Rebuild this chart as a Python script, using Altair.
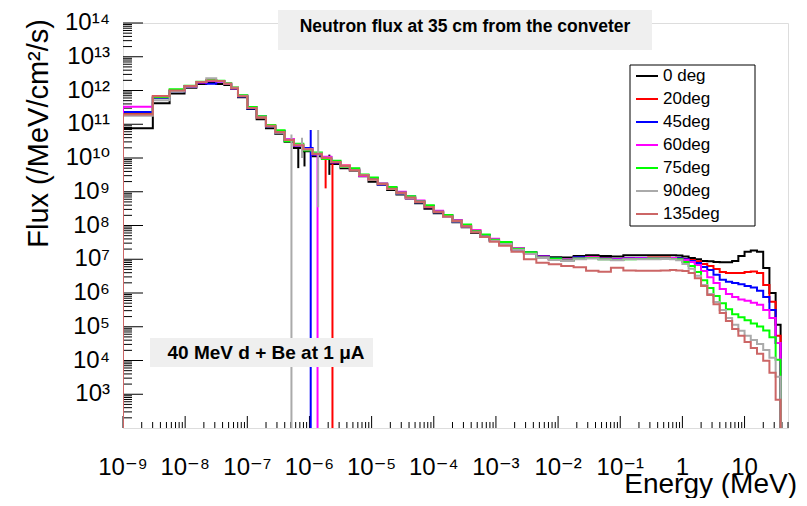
import altair as alt
import pandas as pd

W, H = 665, 405
FONT = "Liberation Sans, Arial, Helvetica, DejaVu Sans, sans-serif"

series_names = ["0 deg", "20deg", "45deg", "60deg", "75deg", "90deg", "135deg"]
series_colors = ["#000000", "#ff0000", "#0000ff", "#ff00ff", "#00ff00", "#aaaaaa", "#cc6666"]

# histogram bin lower edges, log10(E / MeV)
edges_low = [-9.0, -8.52, -8.25, -8.01, -7.82, -7.66, -7.50, -7.37]
edges_mid = [-7.26, -7.15, -7.00, -6.85, -6.70, -6.55, -6.40, -6.25, -6.10, -5.95,
             -5.80, -5.65, -5.50, -5.35, -5.20, -5.05, -4.90, -4.75, -4.60, -4.45,
             -4.30, -4.15, -4.00, -3.85, -3.70, -3.55, -3.40, -3.25, -3.10]
edges_flat = [-2.95, -2.75, -2.55, -2.35, -2.15, -1.95, -1.75, -1.55, -1.35, -1.15,
              -0.95, -0.75, -0.55, -0.35]
edges_high = [-0.20, -0.10, 0.00, 0.10, 0.20, 0.30, 0.40, 0.50, 0.60, 0.70,
              0.80, 0.90, 1.00, 1.10, 1.20, 1.30, 1.40, 1.50]
edge_last = 1.58
edge_end = 1.70
floor_log = 0.0   # empty bin (drops below the axis)

# log10(flux) per bin
deg0_low = [10.88, 11.62, 11.91, 12.08, 12.19, 12.24, 12.19, 12.16]
deg20_low = [11.31, 11.83, 12.00, 12.13, 12.25, 12.30, 12.28, 12.20]
deg45_low = [11.36, 11.78, 11.98, 12.12, 12.24, 12.20, 12.27, 12.19]
deg60_low = [11.52, 11.80, 11.99, 12.12, 12.24, 12.29, 12.27, 12.20]
deg75_low = [11.28, 11.80, 12.04, 12.14, 12.26, 12.31, 12.29, 12.22]
deg90_low = [11.25, 11.71, 11.97, 12.12, 12.25, 12.36, 12.28, 12.21]
deg135_low = [11.29, 11.83, 12.00, 12.13, 12.25, 12.30, 12.28, 12.20]

deg0_mid = [12.05, 11.80, 11.45, 11.15, 10.88, 10.72, 10.48, 10.30, 10.20, 10.05,
            9.98, 9.82, 9.70, 9.62, 9.46, 9.30, 9.20, 9.05, 8.92, 8.80,
            8.66, 8.50, 8.36, 8.25, 8.10, 7.95, 7.78, 7.66, 7.55]
deg20_mid = [12.08, 11.84, 11.50, 11.20, 10.96, 10.78, 10.55, 10.40, 10.24, 10.14,
             10.02, 9.86, 9.78, 9.65, 9.50, 9.38, 9.22, 9.10, 8.98, 8.82,
             8.72, 8.56, 8.42, 8.26, 8.15, 7.99, 7.85, 7.70, 7.60]
deg45_mid = [12.06, 11.82, 11.47, 11.23, 10.93, 10.80, 10.52, 10.36, 10.30, 10.10,
             10.03, 9.87, 9.74, 9.66, 9.48, 9.40, 9.21, 9.12, 8.95, 8.86,
             8.69, 8.58, 8.39, 8.30, 8.12, 8.00, 7.81, 7.72, 7.56]
deg60_mid = [12.07, 11.85, 11.49, 11.22, 10.95, 10.76, 10.56, 10.37, 10.27, 10.11,
             10.04, 9.89, 9.77, 9.68, 9.47, 9.37, 9.25, 9.08, 9.00, 8.81,
             8.74, 8.54, 8.44, 8.25, 8.16, 7.97, 7.86, 7.68, 7.61]
deg75_mid = [12.09, 11.86, 11.51, 11.24, 10.97, 10.82, 10.50, 10.42, 10.22, 10.16,
             9.97, 9.92, 9.73, 9.70, 9.51, 9.42, 9.24, 9.14, 8.97, 8.87,
             8.71, 8.60, 8.41, 8.31, 8.14, 8.03, 7.83, 7.73, 7.58]
deg90_mid = [12.08, 11.84, 11.48, 11.20, 10.94, 10.75, 10.54, 10.39, 10.25, 10.13,
             10.01, 9.88, 9.75, 9.63, 9.50, 9.35, 9.22, 9.08, 8.95, 8.82,
             8.69, 8.55, 8.39, 8.26, 8.12, 7.97, 7.80, 7.67, 7.55]
deg135_mid = [12.07, 11.83, 11.48, 11.21, 10.94, 10.77, 10.53, 10.38, 10.26, 10.12,
              10.00, 9.88, 9.76, 9.64, 9.49, 9.36, 9.23, 9.09, 8.96, 8.83,
              8.70, 8.55, 8.40, 8.27, 8.13, 7.98, 7.80, 7.66, 7.52]

deg0_flat = [7.46, 7.32, 7.20, 7.10, 7.06, 7.05, 7.10, 7.12, 7.10, 7.08, 7.12, 7.12, 7.12, 7.12]
deg20_flat = [7.49, 7.30, 7.18, 7.06, 7.00, 6.98, 7.05, 7.06, 7.03, 7.00, 7.04, 7.04, 7.05, 7.05]
deg45_flat = [7.50, 7.29, 7.20, 7.08, 7.02, 6.97, 7.06, 7.04, 7.02, 7.01, 7.03, 7.04, 7.04, 7.04]
deg60_flat = [7.47, 7.33, 7.17, 7.08, 7.00, 6.99, 7.03, 7.06, 7.01, 7.00, 7.02, 7.03, 7.04, 7.04]
deg75_flat = [7.51, 7.31, 7.21, 7.05, 7.02, 6.96, 7.02, 7.04, 7.00, 6.98, 7.00, 7.01, 7.02, 7.02]
deg90_flat = [7.45, 7.28, 7.16, 7.04, 6.98, 6.95, 7.00, 7.02, 6.99, 6.97, 7.00, 7.00, 7.00, 7.01]
deg135_flat = [7.40, 7.22, 7.00, 6.90, 6.85, 6.80, 6.76, 6.66, 6.63, 6.75, 6.67, 6.66, 6.66, 6.67]

deg0_high = [7.12, 7.11, 7.08, 7.04, 7.00, 6.95, 6.94, 6.92, 6.91, 6.91,
             6.95, 7.10, 7.22, 7.26, 7.22, 6.74, 6.00, 5.06]
deg20_high = [7.04, 7.04, 7.01, 6.98, 6.94, 6.86, 6.80, 6.71, 6.62, 6.59,
              6.59, 6.59, 6.62, 6.64, 6.59, 6.24, 5.74, 4.73]
deg45_high = [7.04, 7.03, 7.00, 6.95, 6.89, 6.77, 6.68, 6.54, 6.39, 6.33,
              6.30, 6.26, 6.21, 6.16, 6.07, 5.88, 5.50, 4.52]
deg60_high = [7.04, 7.01, 6.98, 6.92, 6.83, 6.65, 6.47, 6.30, 6.12, 5.97,
              5.88, 5.81, 5.77, 5.71, 5.65, 5.50, 5.26, 4.52]
deg75_high = [7.01, 7.00, 6.92, 6.80, 6.62, 6.38, 6.15, 5.91, 5.70, 5.52,
              5.37, 5.28, 5.19, 5.10, 5.01, 4.89, 4.69, 4.02]
deg90_high = [7.00, 6.97, 6.86, 6.72, 6.51, 6.24, 5.97, 5.73, 5.50, 5.26,
              5.06, 4.88, 4.73, 4.61, 4.49, 4.31, 4.08, 3.52]
deg135_high = [6.68, 6.67, 6.65, 6.59, 6.44, 6.21, 5.94, 5.67, 5.41, 5.17,
               4.93, 4.73, 4.55, 4.37, 4.20, 3.99, 3.64, 2.84]

# narrow spikes / empty bins: series, log10 E, log10 top, log10 bottom
spike_series = ["0 deg", "0 deg", "0 deg", "20deg", "20deg", "45deg", "60deg", "90deg", "90deg", "90deg"]
spike_loge = [-6.18, -6.08, -5.68, -5.74, -5.63, -5.98, -5.87, -6.29, -6.12, -5.86]
spike_top = [10.30, 10.25, 10.10, 10.02, 9.93, 10.83, 10.10, 10.70, 10.60, 10.83]
spike_bottom = [9.70, 9.75, 9.50, 9.10, 0.0, 0.0, 0.0, 0.0, 10.00, 8.54]

x_major = [1e-9, 1e-8, 1e-7, 1e-6, 1e-5, 1e-4, 1e-3, 1e-2, 1e-1, 1.0, 10.0]
x_tick_labels = ["10⁻⁹", "10⁻⁸", "10⁻⁷", "10⁻⁶", "10⁻⁵", "10⁻⁴", "10⁻³", "10⁻²", "10⁻¹", "1", "10"]
y_major = [1e3, 1e4, 1e5, 1e6, 1e7, 1e8, 1e9, 1e10, 1e11, 1e12, 1e13, 1e14]
y_tick_labels = ["10³", "10⁴", "10⁵", "10⁶", "10⁷", "10⁸", "10⁹", "10¹⁰", "10¹¹", "10¹²", "10¹³", "10¹⁴"]
x_minor = [m * 10.0 ** e for e in range(-9, 2) for m in range(2, 10) if m * 10.0 ** e <= 50]
y_minor = [m * 10.0 ** e for e in range(2, 14) for m in range(2, 10)]

title_text = "Neutron flux at 35 cm from the conveter"
note_text = "40 MeV d + Be at 1 μA"
x_title = "Energy (MeV)"
y_title = "Flux (/MeV/cm²/s)"

# ---------- build tables ----------
low_sets = [deg0_low, deg20_low, deg45_low, deg60_low, deg75_low, deg90_low, deg135_low]
mid_sets = [deg0_mid, deg20_mid, deg45_mid, deg60_mid, deg75_mid, deg90_mid, deg135_mid]
flat_sets = [deg0_flat, deg20_flat, deg45_flat, deg60_flat, deg75_flat, deg90_flat, deg135_flat]
high_sets = [deg0_high, deg20_high, deg45_high, deg60_high, deg75_high, deg90_high, deg135_high]
all_edges = edges_low + edges_mid + edges_flat + edges_high

rows = []
for name, lo, mi, fl, hi in zip(series_names, low_sets, mid_sets, flat_sets, high_sets):
    vals = lo + mi + fl + hi
    pts = [(all_edges[0], floor_log)] + list(zip(all_edges, vals)) + [(edge_last, floor_log), (edge_end, floor_log)]
    for i, (e, v) in enumerate(pts):
        rows.append({"series": name, "idx": i, "E": 10 ** e, "F": 10 ** v})
df = pd.DataFrame(rows)

spikes = pd.DataFrame({
    "series": spike_series,
    "E": [10 ** e for e in spike_loge],
    "top": [10 ** v for v in spike_top],
    "bottom": [10 ** v for v in spike_bottom],
})

x_scale = alt.Scale(type="log", domain=[1e-9, 50], nice=False)
y_scale = alt.Scale(type="log", domain=[1e2, 1e14], nice=False)

color = alt.Color(
    "series:N",
    scale=alt.Scale(domain=series_names, range=series_colors),
    legend=alt.Legend(
        title=None, orient="none", legendX=507, legendY=36, padding=5, rowPadding=3,
        labelFont=FONT, labelFontSize=17, labelColor="black", labelOffset=4,
        symbolType="stroke", symbolSize=484, symbolStrokeWidth=2,
    ),
)

layers = []
one = pd.DataFrame({"k": [0]})

# ticks (inside the frame)
layers.append(alt.Chart(pd.DataFrame({"v": x_major})).mark_rule(color="black", strokeWidth=1).encode(
    x=alt.X("v:Q", scale=x_scale, axis=None), y=alt.value(H), y2=alt.value(H - 12)))
layers.append(alt.Chart(pd.DataFrame({"v": x_minor})).mark_rule(color="black", strokeWidth=1).encode(
    x=alt.X("v:Q", scale=x_scale, axis=None), y=alt.value(H), y2=alt.value(H - 6)))
layers.append(alt.Chart(pd.DataFrame({"v": y_major})).mark_rule(color="black", strokeWidth=1).encode(
    y=alt.Y("v:Q", scale=y_scale, axis=None), x=alt.value(0), x2=alt.value(20)))
layers.append(alt.Chart(pd.DataFrame({"v": y_minor})).mark_rule(color="black", strokeWidth=1).encode(
    y=alt.Y("v:Q", scale=y_scale, axis=None), x=alt.value(0), x2=alt.value(9)))

# histograms
for name in series_names:
    layers.append(
        alt.Chart(df).transform_filter(alt.datum.series == name)
        .mark_line(interpolate="step-after", clip=True, strokeWidth=2)
        .encode(x=alt.X("E:Q", scale=x_scale, axis=None),
                y=alt.Y("F:Q", scale=y_scale, axis=None),
                color=color, order="idx:Q"))
    layers.append(
        alt.Chart(spikes).transform_filter(alt.datum.series == name)
        .mark_rule(clip=True, strokeWidth=2)
        .encode(x=alt.X("E:Q", scale=x_scale, axis=None),
                y=alt.Y("top:Q", scale=y_scale, axis=None),
                y2="bottom:Q", color=color))

# tick labels
layers.append(alt.Chart(pd.DataFrame({"v": x_major, "t": x_tick_labels})).mark_text(
    font=FONT, fontSize=24, align="center", baseline="alphabetic", color="black").encode(
    x=alt.X("v:Q", scale=x_scale, axis=None), y=alt.value(H + 47), text="t:N"))
layers.append(alt.Chart(pd.DataFrame({"v": y_major, "t": y_tick_labels})).mark_text(
    font=FONT, fontSize=24, align="right", baseline="alphabetic", dy=7, color="black").encode(
    y=alt.Y("v:Q", scale=y_scale, axis=None), x=alt.value(-13), text="t:N"))

# axis titles
layers.append(alt.Chart(pd.DataFrame({"t": [x_title]})).mark_text(
    font=FONT, fontSize=28, align="right", baseline="alphabetic", color="black").encode(
    x=alt.value(674), y=alt.value(H + 65), text="t:N"))
layers.append(alt.Chart(pd.DataFrame({"t": [y_title]})).mark_text(
    font=FONT, fontSize=29, align="right", baseline="alphabetic", angle=270, color="black").encode(
    x=alt.value(-75), y=alt.value(-4), text="t:N"))

# annotation box
layers.append(alt.Chart(one).mark_rect(fill="#efefef", stroke=None).encode(
    x=alt.value(27), x2=alt.value(250), y=alt.value(315), y2=alt.value(344)))
layers.append(alt.Chart(pd.DataFrame({"t": [note_text]})).mark_text(
    font=FONT, fontSize=19, fontWeight="bold", align="center", baseline="alphabetic", color="black").encode(
    x=alt.value(143), y=alt.value(336), text="t:N"))

# title box
layers.append(alt.Chart(one).mark_rect(fill="#efefef", stroke=None).encode(
    x=alt.value(155), x2=alt.value(529), y=alt.value(-13), y2=alt.value(27)))
layers.append(alt.Chart(pd.DataFrame({"t": [title_text]})).mark_text(
    font=FONT, fontSize=17.5, fontWeight="bold", align="center", baseline="alphabetic", color="black").encode(
    x=alt.value(342), y=alt.value(9), text="t:N"))

# legend frame
layers.append(alt.Chart(one).mark_rect(fill="white", stroke="black", strokeWidth=1).encode(
    x=alt.value(507), x2=alt.value(632), y=alt.value(42), y2=alt.value(203)))

chart = alt.layer(*layers).properties(
    width=W, height=H,
    autosize=alt.AutoSizeParams(type="none"),
    padding={"left": 115, "top": 15, "right": 11, "bottom": 70},
).configure_view(stroke="black", strokeWidth=1).configure(background="white")

chart.save("out.html", embed_options={"renderer": "svg", "actions": False})
